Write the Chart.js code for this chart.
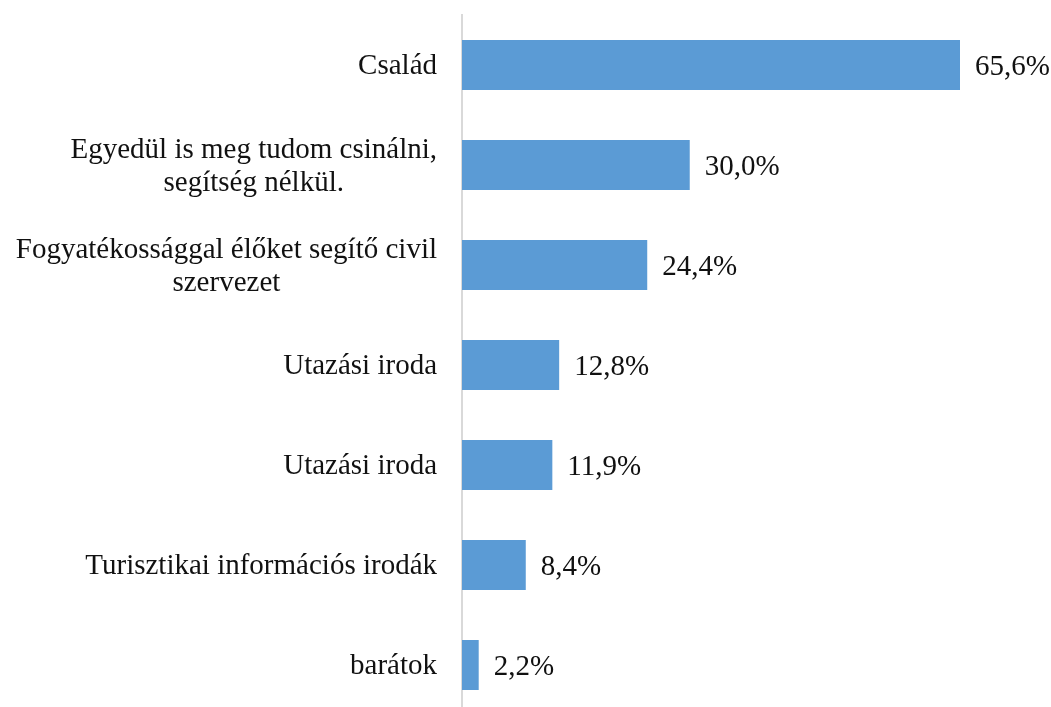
<!DOCTYPE html>
<html>
<head>
<meta charset="utf-8">
<script src="https://cdn.jsdelivr.net/npm/chart.js@4"></script>
<style>
  html, body { margin: 0; padding: 0; background: #fff; overflow: hidden; }
</style>
</head>
<body>
<canvas id="chart" width="1051" height="720"></canvas>
<script>
const categories = [
    'Család',
    ['Egyedül is meg tudom csinálni,', 'segítség nélkül.'],
    ['Fogyatékossággal élőket segítő civil', 'szervezet'],
    'Utazási iroda',
    'Utazási iroda',
    'Turisztikai információs irodák',
    'barátok'
];
const values = [65.6, 30.0, 24.4, 12.8, 11.9, 8.4, 2.2];
const axisMax = 70;

const FONT = '29px "Liberation Serif", "Times New Roman", serif';
const TEXT = '#111';

// category labels: block right-aligned to the axis, lines centred inside the block
const categoryLabels = {
    id: 'categoryLabels',
    afterDraw(chart) {
        const ctx = chart.ctx;
        const yScale = chart.scales.y;
        const right = yScale.right - 25;
        const lineHeight = 33;
        ctx.save();
        ctx.font = FONT;
        ctx.fillStyle = TEXT;
        ctx.textAlign = 'center';
        ctx.textBaseline = 'alphabetic';
        categories.forEach((label, i) => {
            const lines = Array.isArray(label) ? label : [label];
            const widest = Math.max(...lines.map(l => ctx.measureText(l).width));
            const cx = right - widest / 2;
            const top = yScale.getPixelForTick(i) - (lines.length - 1) * lineHeight / 2;
            lines.forEach((line, j) => ctx.fillText(line, cx, top + j * lineHeight + 9));
        });
        ctx.restore();
    }
};

const valueLabels = {
    id: 'valueLabels',
    afterDatasetsDraw(chart) {
        const ctx = chart.ctx;
        ctx.save();
        ctx.font = FONT;
        ctx.fillStyle = TEXT;
        ctx.textAlign = 'left';
        ctx.textBaseline = 'alphabetic';
        chart.getDatasetMeta(0).data.forEach((bar, i) => {
            const txt = values[i].toFixed(1).replace('.', ',') + '%';
            ctx.fillText(txt, bar.x + 15, bar.y + 10);
        });
        ctx.restore();
    }
};

new Chart(document.getElementById('chart').getContext('2d'), {
    type: 'bar',
    data: {
        labels: categories,
        datasets: [{
            data: values,
            backgroundColor: '#5B9BD5',
            borderWidth: 0,
            categoryPercentage: 1,
            barPercentage: 0.5
        }]
    },
    options: {
        indexAxis: 'y',
        responsive: false,
        animation: false,
        layout: { padding: { top: 15, right: 57.6, bottom: 5, left: 0 } },
        plugins: {
            legend: { display: false },
            tooltip: { enabled: false }
        },
        scales: {
            x: {
                display: false,
                min: 0,
                max: axisMax
            },
            y: {
                grid: { display: false },
                border: { display: true, color: '#d9d9d9', width: 2 },
                ticks: { display: false },
                afterFit(scale) { scale.width = 462; }
            }
        }
    },
    plugins: [categoryLabels, valueLabels]
});
</script>
</body>
</html>
